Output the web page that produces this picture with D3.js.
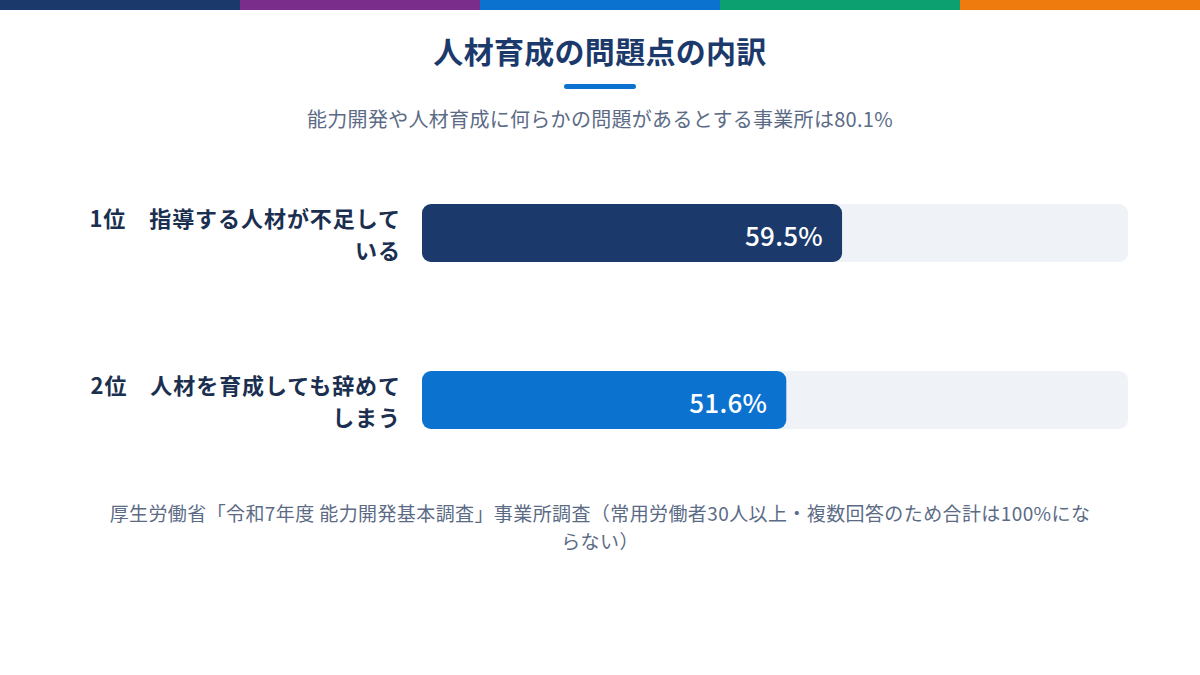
<!DOCTYPE html>
<html lang="ja">
<head>
<meta charset="utf-8">
<script src="https://cdn.jsdelivr.net/npm/d3@7"></script>
<style>
  html, body { margin: 0; padding: 0; background: #fff; }
  svg { display: block; font-family: "Noto Sans CJK JP", "Noto Sans", sans-serif; }
</style>
</head>
<body>
<svg id="chart"></svg>
<script>
const title = "人材育成の問題点の内訳";
const subtitle = "能力開発や人材育成に何らかの問題があるとする事業所は80.1%";
const source = "厚生労働省「令和7年度 能力開発基本調査」事業所調査（常用労働者30人以上・複数回答のため合計は100%にならない）";

const ranks = ["1位", "2位"];
const categories = ["指導する人材が不足している", "人材を育成しても辞めてしまう"];
const values = [59.5, 51.6];

const stripeColors = ["#1b3a6b", "#7b2d8c", "#0b72cf", "#0ca070", "#ef7a0d"];
const barColors = ["#1b3a6b", "#0b72cf"];

const width = 1200, height = 675;

const svg = d3.select("#chart")
    .attr("width", width)
    .attr("height", height);

// top stripe
const stripeX = d3.scaleBand().domain(d3.range(stripeColors.length)).range([0, width]);
svg.append("g").selectAll("rect")
    .data(stripeColors)
    .join("rect")
    .attr("x", (d, i) => stripeX(i))
    .attr("y", 0)
    .attr("width", stripeX.bandwidth() + 0.5)
    .attr("height", 10)
    .attr("fill", d => d);

// titles
svg.append("text")
    .attr("x", width / 2)
    .attr("y", 50)
    .attr("text-anchor", "middle")
    .attr("dominant-baseline", "central")
    .attr("font-size", "30px")
    .attr("font-weight", "bold")
    .attr("letter-spacing", "0.3px")
    .attr("fill", "#1b3a6b")
    .text(title);

svg.append("rect")
    .attr("x", width / 2 - 36)
    .attr("y", 84)
    .attr("width", 72)
    .attr("height", 5)
    .attr("rx", 2.5)
    .attr("fill", "#0b72cf");

svg.append("text")
    .attr("x", width / 2)
    .attr("y", 118)
    .attr("text-anchor", "middle")
    .attr("dominant-baseline", "central")
    .attr("font-size", "20px")
    .attr("letter-spacing", "0.3px")
    .attr("fill", "#5b6b86")
    .text(subtitle);

// wrap a string char by char into lines no wider than maxWidth
function wrapLines(str, maxWidth, attrs) {
    const probe = svg.append("text");
    Object.entries(attrs).forEach(([k, v]) => probe.attr(k, v));
    const lines = [];
    let line = "";
    for (const ch of str) {
        probe.text(line + ch);
        if (line && probe.node().getComputedTextLength() > maxWidth) {
            lines.push(line);
            line = ch;
        } else {
            line += ch;
        }
    }
    if (line) lines.push(line);
    probe.remove();
    return lines;
}

const x = d3.scaleLinear().domain([0, 100]).range([422, 1128]);
const y = d3.scalePoint().domain(categories).range([233, 400]);
const barH = 58;

const rows = svg.append("g").selectAll("g")
    .data(categories)
    .join("g");

// track
rows.append("rect")
    .attr("x", x(0))
    .attr("y", d => y(d) - barH / 2)
    .attr("width", x(100) - x(0))
    .attr("height", barH)
    .attr("rx", 9)
    .attr("fill", "#eff3f8");

// value bar
rows.append("rect")
    .attr("x", x(0))
    .attr("y", d => y(d) - barH / 2)
    .attr("width", (d, i) => x(values[i]) - x(0))
    .attr("height", barH)
    .attr("rx", 9)
    .attr("fill", (d, i) => barColors[i]);

rows.append("text")
    .attr("x", (d, i) => x(values[i]) - 19)
    .attr("y", d => y(d) + 1)
    .attr("text-anchor", "end")
    .attr("dominant-baseline", "central")
    .attr("font-size", "26px")
    .attr("font-weight", 500)
    .attr("letter-spacing", "0.3px")
    .attr("fill", "#fff")
    .text((d, i) => values[i].toFixed(1) + "%");

// category labels
const labelAttrs = { "font-size": "22px", "font-weight": "bold", "letter-spacing": "0.95px" };
rows.each(function (d, i) {
    const lines = wrapLines(ranks[i] + "\u3000" + d, 330, labelAttrs);
    const lh = 32;
    const t = d3.select(this).append("text")
        .attr("text-anchor", "end")
        .attr("fill", "#1b2f50");
    Object.entries(labelAttrs).forEach(([k, v]) => t.attr(k, v));
    t.selectAll("tspan")
        .data(lines)
        .join("tspan")
        .attr("x", 401)
        .attr("y", (l, j) => y(d) + (j - (lines.length - 1) / 2) * lh)
        .attr("dominant-baseline", "central")
        .text(l => l);
});

// source note
const srcAttrs = { "font-size": "19px", "letter-spacing": "0.4px" };
const srcLines = wrapLines(source, 990, srcAttrs);
const src = svg.append("text")
    .attr("text-anchor", "middle")
    .attr("fill", "#5b6b86");
Object.entries(srcAttrs).forEach(([k, v]) => src.attr(k, v));
src.selectAll("tspan")
    .data(srcLines)
    .join("tspan")
    .attr("x", width / 2)
    .attr("y", (l, j) => 512 + j * 28)
    .attr("dominant-baseline", "central")
    .text(l => l);
</script>
</body>
</html>
